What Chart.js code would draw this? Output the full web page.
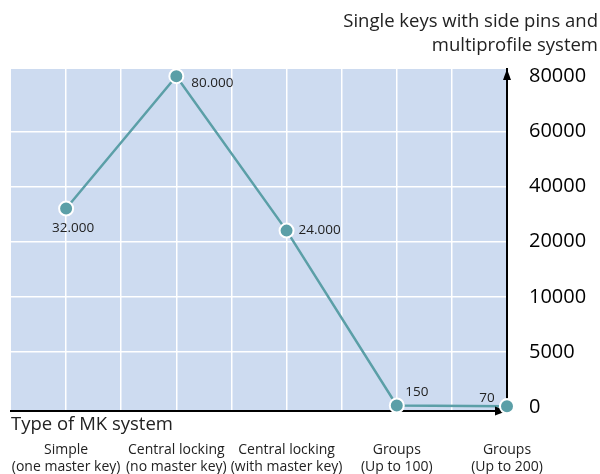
<!DOCTYPE html>
<html>
<head>
<meta charset="utf-8">
<script src="https://cdn.jsdelivr.net/npm/chart.js@4/dist/chart.umd.min.js"></script>
<style>
  html, body { margin: 0; padding: 0; background: #fff; }
  #wrap { width: 600px; height: 474px; }
</style>
</head>
<body>
<div id="wrap"><canvas id="grafica" width="600" height="474"></canvas></div>
<script>
// --- datos ---
const categorias = [
  ['Simple', '(one master key)'],
  ['Central locking', '(no master key)'],
  ['Central locking', '(with master key)'],
  ['Groups', '(Up to 100)'],
  ['Groups', '(Up to 200)']
];
const llaves = [32000, 80000, 24000, 150, 70];
const marcasY = [0, 5000, 10000, 20000, 40000, 60000, 80000];
const tituloY = ['Single keys with side pins and', 'multiprofile system'];
const tituloX = 'Type of MK system';

const FUENTE = '"Open Sans", "Noto Sans", sans-serif';
const TEAL = '#5b9fa7';

// el eje Y no es lineal: cada marca ocupa el mismo espacio
function aEje(v) {
  for (let i = 0; i < marcasY.length - 1; i++) {
    if (v <= marcasY[i + 1]) {
      return i + (v - marcasY[i]) / (marcasY[i + 1] - marcasY[i]);
    }
  }
  return marcasY.length - 1;
}

function formato(v) {
  return String(v).replace(/\B(?=(\d{3})+(?!\d))/g, '.');
}

const puntos = llaves.map((v, i) => ({ x: i, y: aEje(v) }));

// donde va cada etiqueta respecto a su punto
const lugares = [
  { dx: 7, dy: 20, align: 'center' },
  { dx: 15, dy: 7, align: 'left' },
  { dx: 12, dy: 0, align: 'left' },
  { dx: 20, dy: -13, align: 'center' },
  { dx: -20, dy: -8, align: 'center' }
];

const fondo = {
  id: 'fondo',
  beforeDraw(chart) {
    const { ctx, chartArea: a } = chart;
    ctx.save();
    ctx.fillStyle = '#cddbf0';
    ctx.fillRect(a.left, a.top, a.right - a.left, a.bottom - a.top);
    ctx.restore();
  }
};

const textos = {
  id: 'textos',
  afterDraw(chart) {
    const { ctx, chartArea: a } = chart;
    ctx.save();
    // flechas de los ejes
    ctx.fillStyle = '#000';
    ctx.beginPath();
    ctx.moveTo(a.right, a.top);
    ctx.lineTo(a.right - 4, a.top + 11);
    ctx.lineTo(a.right + 4, a.top + 11);
    ctx.closePath();
    ctx.fill();
    ctx.beginPath();
    ctx.moveTo(a.right, a.bottom);
    ctx.lineTo(a.right - 12, a.bottom - 4.5);
    ctx.lineTo(a.right - 12, a.bottom + 4.5);
    ctx.closePath();
    ctx.fill();

    // titulos
    ctx.fillStyle = '#222';
    ctx.font = '18.5px ' + FUENTE;
    ctx.textBaseline = 'middle';
    ctx.textAlign = 'right';
    ctx.fillText(tituloY[0], 598, 22);
    ctx.fillText(tituloY[1], 598, 46);
    ctx.textAlign = 'left';
    ctx.fillText(tituloX, 11, 425);

    // etiquetas de valores
    const meta = chart.getDatasetMeta(0);
    ctx.font = '13.5px ' + FUENTE;
    ctx.fillStyle = '#222';
    meta.data.forEach((p, i) => {
      const l = lugares[i];
      ctx.textAlign = l.align;
      ctx.fillText(formato(llaves[i]), p.x + l.dx, p.y + l.dy);
    });

    // vuelve a pintar el ultimo punto sobre la flecha
    ctx.restore();
    meta.data[meta.data.length - 1].draw(ctx);
  }
};

new Chart(document.getElementById('grafica'), {
  type: 'line',
  data: {
    datasets: [{
      data: puntos,
      borderColor: TEAL,
      borderWidth: 2.5,
      backgroundColor: TEAL,
      pointBackgroundColor: TEAL,
      pointBorderColor: '#fff',
      pointBorderWidth: 2,
      pointRadius: 7,
      clip: false,
      tension: 0
    }]
  },
  options: {
    responsive: false,
    animation: false,
    layout: { padding: { top: 69, left: 11, right: 0, bottom: 0 } },
    plugins: {
      legend: { display: false },
      tooltip: { enabled: false }
    },
    scales: {
      x: {
        type: 'linear',
        min: -0.5,
        max: 4,
        afterFit: (s) => { s.height = 63; s.paddingLeft = 0; s.paddingRight = 0; },
        ticks: {
          stepSize: 0.5,
          autoSkip: false,
          maxRotation: 0,
          padding: 30,
          color: '#222',
          font: { family: FUENTE, size: 14, lineHeight: 1.25 },
          callback: (v) => Number.isInteger(v) ? categorias[v] : ''
        },
        grid: {
          drawTicks: false,
          lineWidth: 1.5,
          color: (c) => (c.tick && c.tick.value > -0.5 && c.tick.value < 4) ? '#ffffff' : 'rgba(0,0,0,0)'
        },
        border: { display: true, color: '#000', width: 2 }
      },
      y: {
        type: 'linear',
        position: 'right',
        min: -0.07,
        max: 6.13,
        afterFit: (s) => { s.width = 93; },
        afterBuildTicks: (s) => { s.ticks = marcasY.map((m, i) => ({ value: i })); },
        ticks: {
          padding: 22,
          crossAlign: 'near',
          color: '#000',
          font: { family: FUENTE, size: 20 },
          callback: (v) => String(marcasY[v])
        },
        grid: {
          drawTicks: false,
          lineWidth: 1.5,
          color: (c) => (c.tick && c.tick.value > 0 && c.tick.value < 6) ? '#ffffff' : 'rgba(0,0,0,0)'
        },
        border: { display: true, color: '#000', width: 2 }
      }
    }
  },
  plugins: [fondo, textos]
});
</script>
</body>
</html>
